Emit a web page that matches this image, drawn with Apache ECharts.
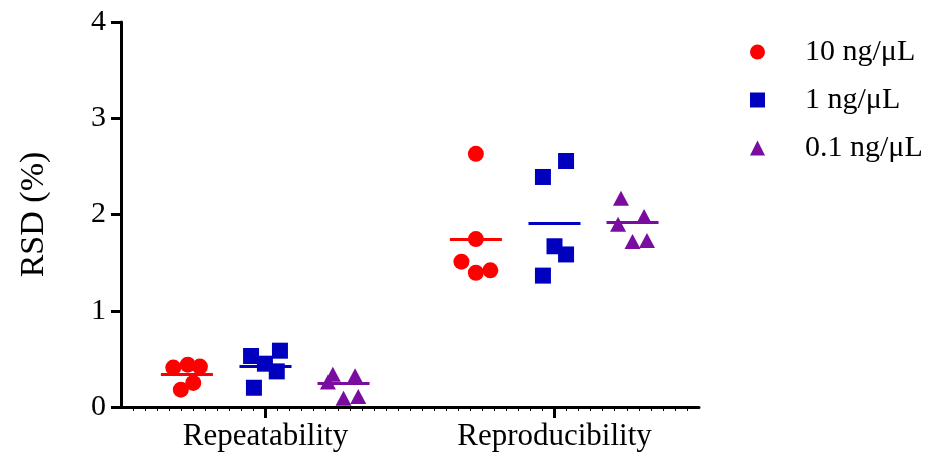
<!DOCTYPE html>
<html>
<head>
<meta charset="utf-8">
<script src="https://cdn.jsdelivr.net/npm/echarts@6/dist/echarts.min.js"></script>
<style>
html,body{margin:0;padding:0;background:#fff;}
#chart{width:934px;height:457px;}
</style>
</head>
<body>
<div id="chart"></div>
<script>
// ---- data ----
const categories = ['Repeatability', 'Reproducibility'];
const seriesNames = ['10 ng/\u03bcL', '1 ng/\u03bcL', '0.1 ng/\u03bcL'];
const yTicks = [0, 1, 2, 3, 4];

// RSD (%) values, per concentration, per category
const rsd10Rep   = [0.41, 0.44, 0.42, 0.18, 0.25];
const rsd10Repro = [2.63, 1.745, 1.51, 1.395, 1.42];
const rsd1Rep    = [0.53, 0.585, 0.45, 0.37, 0.20];
const rsd1Repro  = [2.39, 2.556, 1.67, 1.585, 1.365];
const rsd01Rep   = [0.34, 0.325, 0.09, 0.11, 0.26];
const rsd01Repro = [2.17, 1.90, 1.98, 1.72, 1.73];

// horizontal scatter (jitter) of each point within its group, in category units
const jit10Rep   = [-0.047, 0.003, 0.045, -0.021, 0.022];
const jit10Repro = [0, 0, -0.05, 0, 0.05];
const jit1Rep    = [-0.05, 0.05, -0.002, 0.039, -0.04];
const jit1Repro  = [-0.04, 0.04, 0, 0.04, -0.04];
const jit01Rep   = [-0.037, 0.04, 0, 0.051, -0.054];
const jit01Repro = [-0.04, -0.05, 0.04, 0, 0.05];

// group means (horizontal bars)
const mean10 = [0.34, 1.745];
const mean1  = [0.426, 1.91];
const mean01 = [0.25, 1.92];

// ---- layout / style ----
const FONT = "'Liberation Serif', 'Times New Roman', serif";
const colors = ['#FF0000', '#0000BE', '#7A0CA0'];
const symbols = ['circle', 'rect', 'triangle'];
const groupOffset = [-0.272, 0, 0.27];
const meanHalf = 0.09;

const groups = [
  { vals: [rsd10Rep, rsd10Repro], jit: [jit10Rep, jit10Repro], mean: mean10 },
  { vals: [rsd1Rep, rsd1Repro],   jit: [jit1Rep, jit1Repro],   mean: mean1 },
  { vals: [rsd01Rep, rsd01Repro], jit: [jit01Rep, jit01Repro], mean: mean01 }
];

const series = groups.map((g, k) => {
  const data = [];
  const lines = [];
  categories.forEach((c, ci) => {
    const center = ci + 0.5 + groupOffset[k];
    g.vals[ci].forEach((v, i) => data.push([center + g.jit[ci][i], v]));
    lines.push([
      { coord: [center - meanHalf, g.mean[ci]] },
      { coord: [center + meanHalf, g.mean[ci]] }
    ]);
  });
  return {
    name: seriesNames[k],
    type: 'scatter',
    xAxisIndex: 1,
    yAxisIndex: 0,
    symbol: symbols[k],
    symbolSize: k === 2 ? [16, 15] : 16,
    itemStyle: { color: colors[k], opacity: 1 },
    data: data,
    markLine: {
      silent: true,
      symbol: ['none', 'none'],
      label: { show: false },
      lineStyle: { color: colors[k], width: 3, type: 'solid' },
      data: lines
    }
  };
});

const chart = echarts.init(document.getElementById('chart'), null, { renderer: 'canvas' });
chart.setOption({
  animation: false,
  backgroundColor: '#ffffff',
  textStyle: { fontFamily: FONT },
  grid: { left: 121, right: 235, top: 22, bottom: 50, containLabel: false },
  legend: {
    orient: 'vertical',
    left: 750,
    top: 37,
    padding: 0,
    itemWidth: 15,
    itemHeight: 15,
    itemGap: 18,
    data: seriesNames.map((n, k) => ({ name: n, icon: symbols[k] })),
    textStyle: { fontFamily: FONT, fontSize: 30, color: '#000', lineHeight: 30, padding: [0, 0, 0, 35] }
  },
  xAxis: [
    {
      type: 'category',
      data: categories,
      position: 'bottom',
      boundaryGap: true,
      axisLine: { show: true, lineStyle: { color: '#000', width: 3 } },
      axisTick: { show: true, alignWithLabel: true, length: 11, lineStyle: { color: '#000', width: 3 } },
      axisLabel: { fontFamily: FONT, fontSize: 31, color: '#000', margin: 14 },
      splitLine: { show: false }
    },
    {
      type: 'value',
      min: 0,
      max: 2,
      interval: 2,
      position: 'bottom',
      axisLine: { show: false },
      axisTick: { show: false },
      axisLabel: { show: false },
      splitLine: { show: false },
      minorTick: { show: true, splitNumber: 48, length: 4, lineStyle: { color: '#000', width: 1 } },
      minorSplitLine: { show: false }
    }
  ],
  yAxis: [{
    type: 'value',
    min: yTicks[0],
    max: yTicks[yTicks.length - 1],
    interval: 1,
    name: 'RSD (%)',
    nameLocation: 'middle',
    nameGap: 70,
    nameTextStyle: { fontFamily: FONT, fontSize: 34, color: '#000' },
    axisLine: { show: true, lineStyle: { color: '#000', width: 3 } },
    axisTick: { show: true, length: 10, lineStyle: { color: '#000', width: 3 } },
    axisLabel: { fontFamily: FONT, fontSize: 30, color: '#000', margin: 15 },
    splitLine: { show: false }
  }],
  series: series
});
</script>
</body>
</html>
